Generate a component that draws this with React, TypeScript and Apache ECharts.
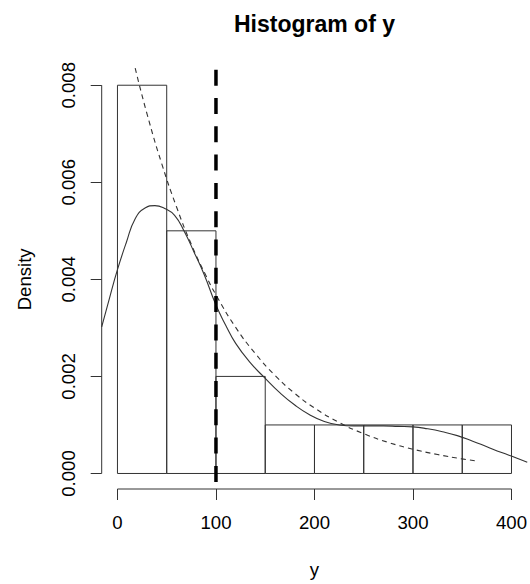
import React, { useEffect, useRef } from "react";
import * as echarts from "echarts";

// Histogram bins: [start, end, density]
const binStarts = [0, 50, 100, 150, 200, 250, 300, 350];
const binEnds = [50, 100, 150, 200, 250, 300, 350, 400];
const binDensity = [0.008, 0.005, 0.002, 0.001, 0.001, 0.001, 0.001, 0.001];

// Kernel density estimate (solid line)
const kdeX = [-16, -8, 0, 9, 18, 28, 38, 48, 58, 68, 78, 88, 100, 110, 120, 135, 150, 165, 180, 195, 210, 225, 240, 255, 270, 285, 300, 315, 330, 345, 360, 375, 390, 405, 416];
const kdeY = [0.00302, 0.00362, 0.0042, 0.00476, 0.00525, 0.00547, 0.00552, 0.00546, 0.00532, 0.00498, 0.00455, 0.0041, 0.00347, 0.00305, 0.00268, 0.00228, 0.00196, 0.00166, 0.00141, 0.00121, 0.00107, 0.001, 0.00098, 0.00098, 0.00098, 0.00097, 0.00096, 0.00092, 0.00086, 0.00078, 0.00067, 0.00055, 0.00043, 0.00032, 0.00023];

// Dashed theoretical curve
const expX = [18, 30, 45, 60, 75, 90, 100, 120, 140, 160, 180, 200, 225, 250, 275, 300, 325, 350, 364];
const expY = [0.00835, 0.00741, 0.00638, 0.00549, 0.00472, 0.00407, 0.00368, 0.00301, 0.00247, 0.00202, 0.00165, 0.00135, 0.00105, 0.00082, 0.00064, 0.0005, 0.00039, 0.0003, 0.00026];

// Vertical reference line
const vlineX = 100;

// Plot region (R's usr) and tick values
const xRange = [-16, 416];
const yRange = [-0.00032, 0.00832];
const xTicks = [0, 100, 200, 300, 400];
const yTicks = [0, 0.002, 0.004, 0.006, 0.008];

const FONT = "'Liberation Sans', Arial, Helvetica, sans-serif";
const LINE = "#333";

export default function App() {
  const ref = useRef<HTMLDivElement>(null);
  useEffect(() => {
    if (!ref.current) return;
    const chart = echarts.init(ref.current, undefined, { renderer: "svg" });
    const histData = binStarts.map((s, i) => [s, binEnds[i], binDensity[i]]);
    const xFirst = xTicks[0];
    const xLast = xTicks[xTicks.length - 1];
    const yFirst = yTicks[0];
    const yLast = yTicks[yTicks.length - 1];
    chart.setOption({
      animation: false,
      backgroundColor: "#fff",
      title: {
        text: "Histogram of y",
        left: 314.5,
        top: 12,
        padding: 0,
        textAlign: "center",
        textStyle: { fontFamily: FONT, fontSize: 23, fontWeight: "bold", color: "#000" },
      },
      grid: { left: 101.7, right: 1.5, top: 69.7, bottom: 93.3, containLabel: false },
      xAxis: {
        type: "value",
        min: xRange[0],
        max: xRange[1],
        name: "y",
        nameLocation: "middle",
        nameGap: 71,
        nameTextStyle: { fontFamily: FONT, fontSize: 18.6, color: "#000" },
        axisLine: { show: false, onZero: false },
        axisTick: { show: true, length: 11, customValues: xTicks, lineStyle: { color: LINE, width: 1 } },
        axisLabel: { fontFamily: FONT, fontSize: 18.6, color: "#000", margin: 24, customValues: xTicks },
        splitLine: { show: false },
      },
      yAxis: {
        type: "value",
        min: yRange[0],
        max: yRange[1],
        name: "Density",
        nameLocation: "middle",
        nameGap: 68,
        nameRotate: 90,
        nameTextStyle: { fontFamily: FONT, fontSize: 18.6, color: "#000" },
        axisLine: { show: false, onZero: false },
        axisTick: { show: true, length: 11, customValues: yTicks, lineStyle: { color: LINE, width: 1 } },
        axisLabel: {
          fontFamily: FONT,
          fontSize: 18.6,
          color: "#000",
          margin: 24,
          rotate: 90,
          customValues: yTicks,
          formatter: (v: number) => v.toFixed(3),
        },
        splitLine: { show: false },
      },
      series: [
        {
          type: "custom",
          data: histData,
          renderItem: (params: any, api: any) => {
            const p0 = api.coord([api.value(0), api.value(2)]);
            const p1 = api.coord([api.value(1), 0]);
            return {
              type: "rect",
              shape: { x: p0[0], y: p0[1], width: p1[0] - p0[0], height: p1[1] - p0[1] },
              style: { fill: "none", stroke: LINE, lineWidth: 1 },
            };
          },
        },
        {
          type: "line",
          clip: false,
          data: kdeX.map((x, i) => [x, kdeY[i]]),
          showSymbol: false,
          smooth: true,
          lineStyle: { color: LINE, width: 1.1 },
        },
        {
          type: "line",
          clip: false,
          data: expX.map((x, i) => [x, expY[i]]),
          showSymbol: false,
          smooth: true,
          lineStyle: { color: LINE, width: 1.1, type: [5, 4] },
        },
        {
          type: "line",
          clip: false,
          data: [[vlineX, yRange[1]], [vlineX, yRange[0]]],
          showSymbol: false,
          lineStyle: { color: "#000", width: 3.5, type: [16, 12.3] },
        },
        {
          // x axis line (R draws it from first to last tick)
          type: "line",
          clip: false,
          silent: true,
          data: [[xFirst, yRange[0]], [xLast, yRange[0]]],
          showSymbol: false,
          lineStyle: { color: LINE, width: 1 },
        },
        {
          // y axis line
          type: "line",
          clip: false,
          silent: true,
          data: [[xRange[0], yFirst], [xRange[0], yLast]],
          showSymbol: false,
          lineStyle: { color: LINE, width: 1 },
        },
      ],
    });
    return () => chart.dispose();
  }, []);
  return (
    <div
      ref={ref}
      style={{ position: "fixed", left: 0, top: 0, width: 530, height: 584, background: "#fff" }}
    />
  );
}
